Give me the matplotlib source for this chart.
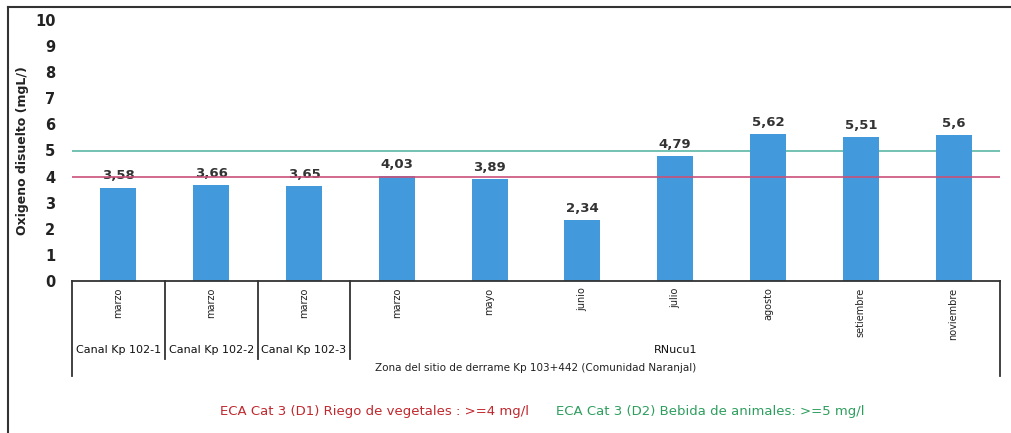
import matplotlib.pyplot as plt
from matplotlib.lines import Line2D
from matplotlib.transforms import blended_transform_factory

# data
months = ['marzo', 'marzo', 'marzo', 'marzo', 'mayo', 'junio', 'julio',
          'agosto', 'setiembre', 'noviembre']
oxygen = [3.58, 3.66, 3.65, 4.03, 3.89, 2.34, 4.79, 5.62, 5.51, 5.60]
value_labels = ['3,58', '3,66', '3,65', '4,03', '3,89', '2,34', '4,79',
                '5,62', '5,51', '5,6']
groups = ['Canal Kp 102-1', 'Canal Kp 102-2', 'Canal Kp 102-3', 'RNucu1']
group_spans = [(0, 1), (1, 2), (2, 3), (3, 10)]
zone_label = 'Zona del sitio de derrame Kp 103+442 (Comunidad Naranjal)'
eca_d1 = 4
eca_d2 = 5

fig = plt.figure(figsize=(10.11, 4.33), dpi=100)
fig.patch.set_facecolor('white')
ax = fig.add_axes([72 / 1011, 1 - 281 / 433, 928 / 1011, 261 / 433])

x = range(len(oxygen))
ax.bar(x, oxygen, width=0.39, color='#4299db', zorder=2)
for xi, v, lab in zip(x, oxygen, value_labels):
    ax.text(xi, v + 0.2, lab, ha='center', va='bottom', fontsize=9.5,
            color='#333333', fontweight='bold')

ax.axhline(eca_d1, color='#c9507a', lw=1.2, zorder=3)
ax.axhline(eca_d2, color='#5bb8a8', lw=1.2, zorder=1)

ax.set_xlim(-0.5, len(oxygen) - 0.5)
ax.set_ylim(0, 10)
ax.set_yticks(range(0, 11))
ax.tick_params(axis='y', length=0, labelsize=10.5, pad=12)
for t in ax.get_yticklabels():
    t.set_fontweight('bold')
    t.set_color('#222222')
ax.set_xticks([])
ax.set_ylabel('Oxigeno disuelto (mgL/)', fontsize=9, fontweight='bold',
              color='#222222', labelpad=4)
for s in ['top', 'right', 'left']:
    ax.spines[s].set_visible(False)
ax.spines['bottom'].set_color('#333333')
ax.spines['bottom'].set_linewidth(1.3)

# category table under the axis
tr = blended_transform_factory(ax.transData, ax.transAxes)
for xi, m in zip(x, months):
    ax.text(xi, -0.025, m, rotation=90, ha='center', va='top', fontsize=7,
            color='#222222', transform=tr)
for g, (a, b) in zip(groups, group_spans):
    ax.text((a + b - 1) / 2, -0.265, g, ha='center', va='center',
            fontsize=8, color='#111111', transform=tr)
ax.text((len(oxygen) - 1) / 2, -0.335, zone_label, ha='center',
        va='center', fontsize=7.5, color='#222222', transform=tr)

for pos, bottom in [(-0.5, -0.365), (0.5, -0.3), (1.5, -0.3), (2.5, -0.3),
                    (len(oxygen) - 0.5, -0.365)]:
    ax.add_line(Line2D([pos, pos], [0, bottom], transform=tr, color='#333333',
                       lw=1.3, clip_on=False))

# legend texts
fig.text(375 / 1011, 1 - 411 / 433, 'ECA Cat 3 (D1) Riego de vegetales : >=4 mg/l',
         ha='center', va='center', fontsize=9.5, color='#c0282e')
fig.text(710 / 1011, 1 - 411 / 433, 'ECA Cat 3 (D2) Bebida de animales: >=5 mg/l',
         ha='center', va='center', fontsize=9.5, color='#2e9e5e')

# outer frame (left and top edges)
fig.add_artist(Line2D([8 / 1011, 8 / 1011], [0, 1 - 7 / 433], color='#333333',
                      lw=1.5, transform=fig.transFigure))
fig.add_artist(Line2D([8 / 1011, 1], [1 - 7 / 433, 1 - 7 / 433],
                      color='#333333', lw=1.5, transform=fig.transFigure))

fig.savefig('out.png', dpi=100, facecolor='white')
